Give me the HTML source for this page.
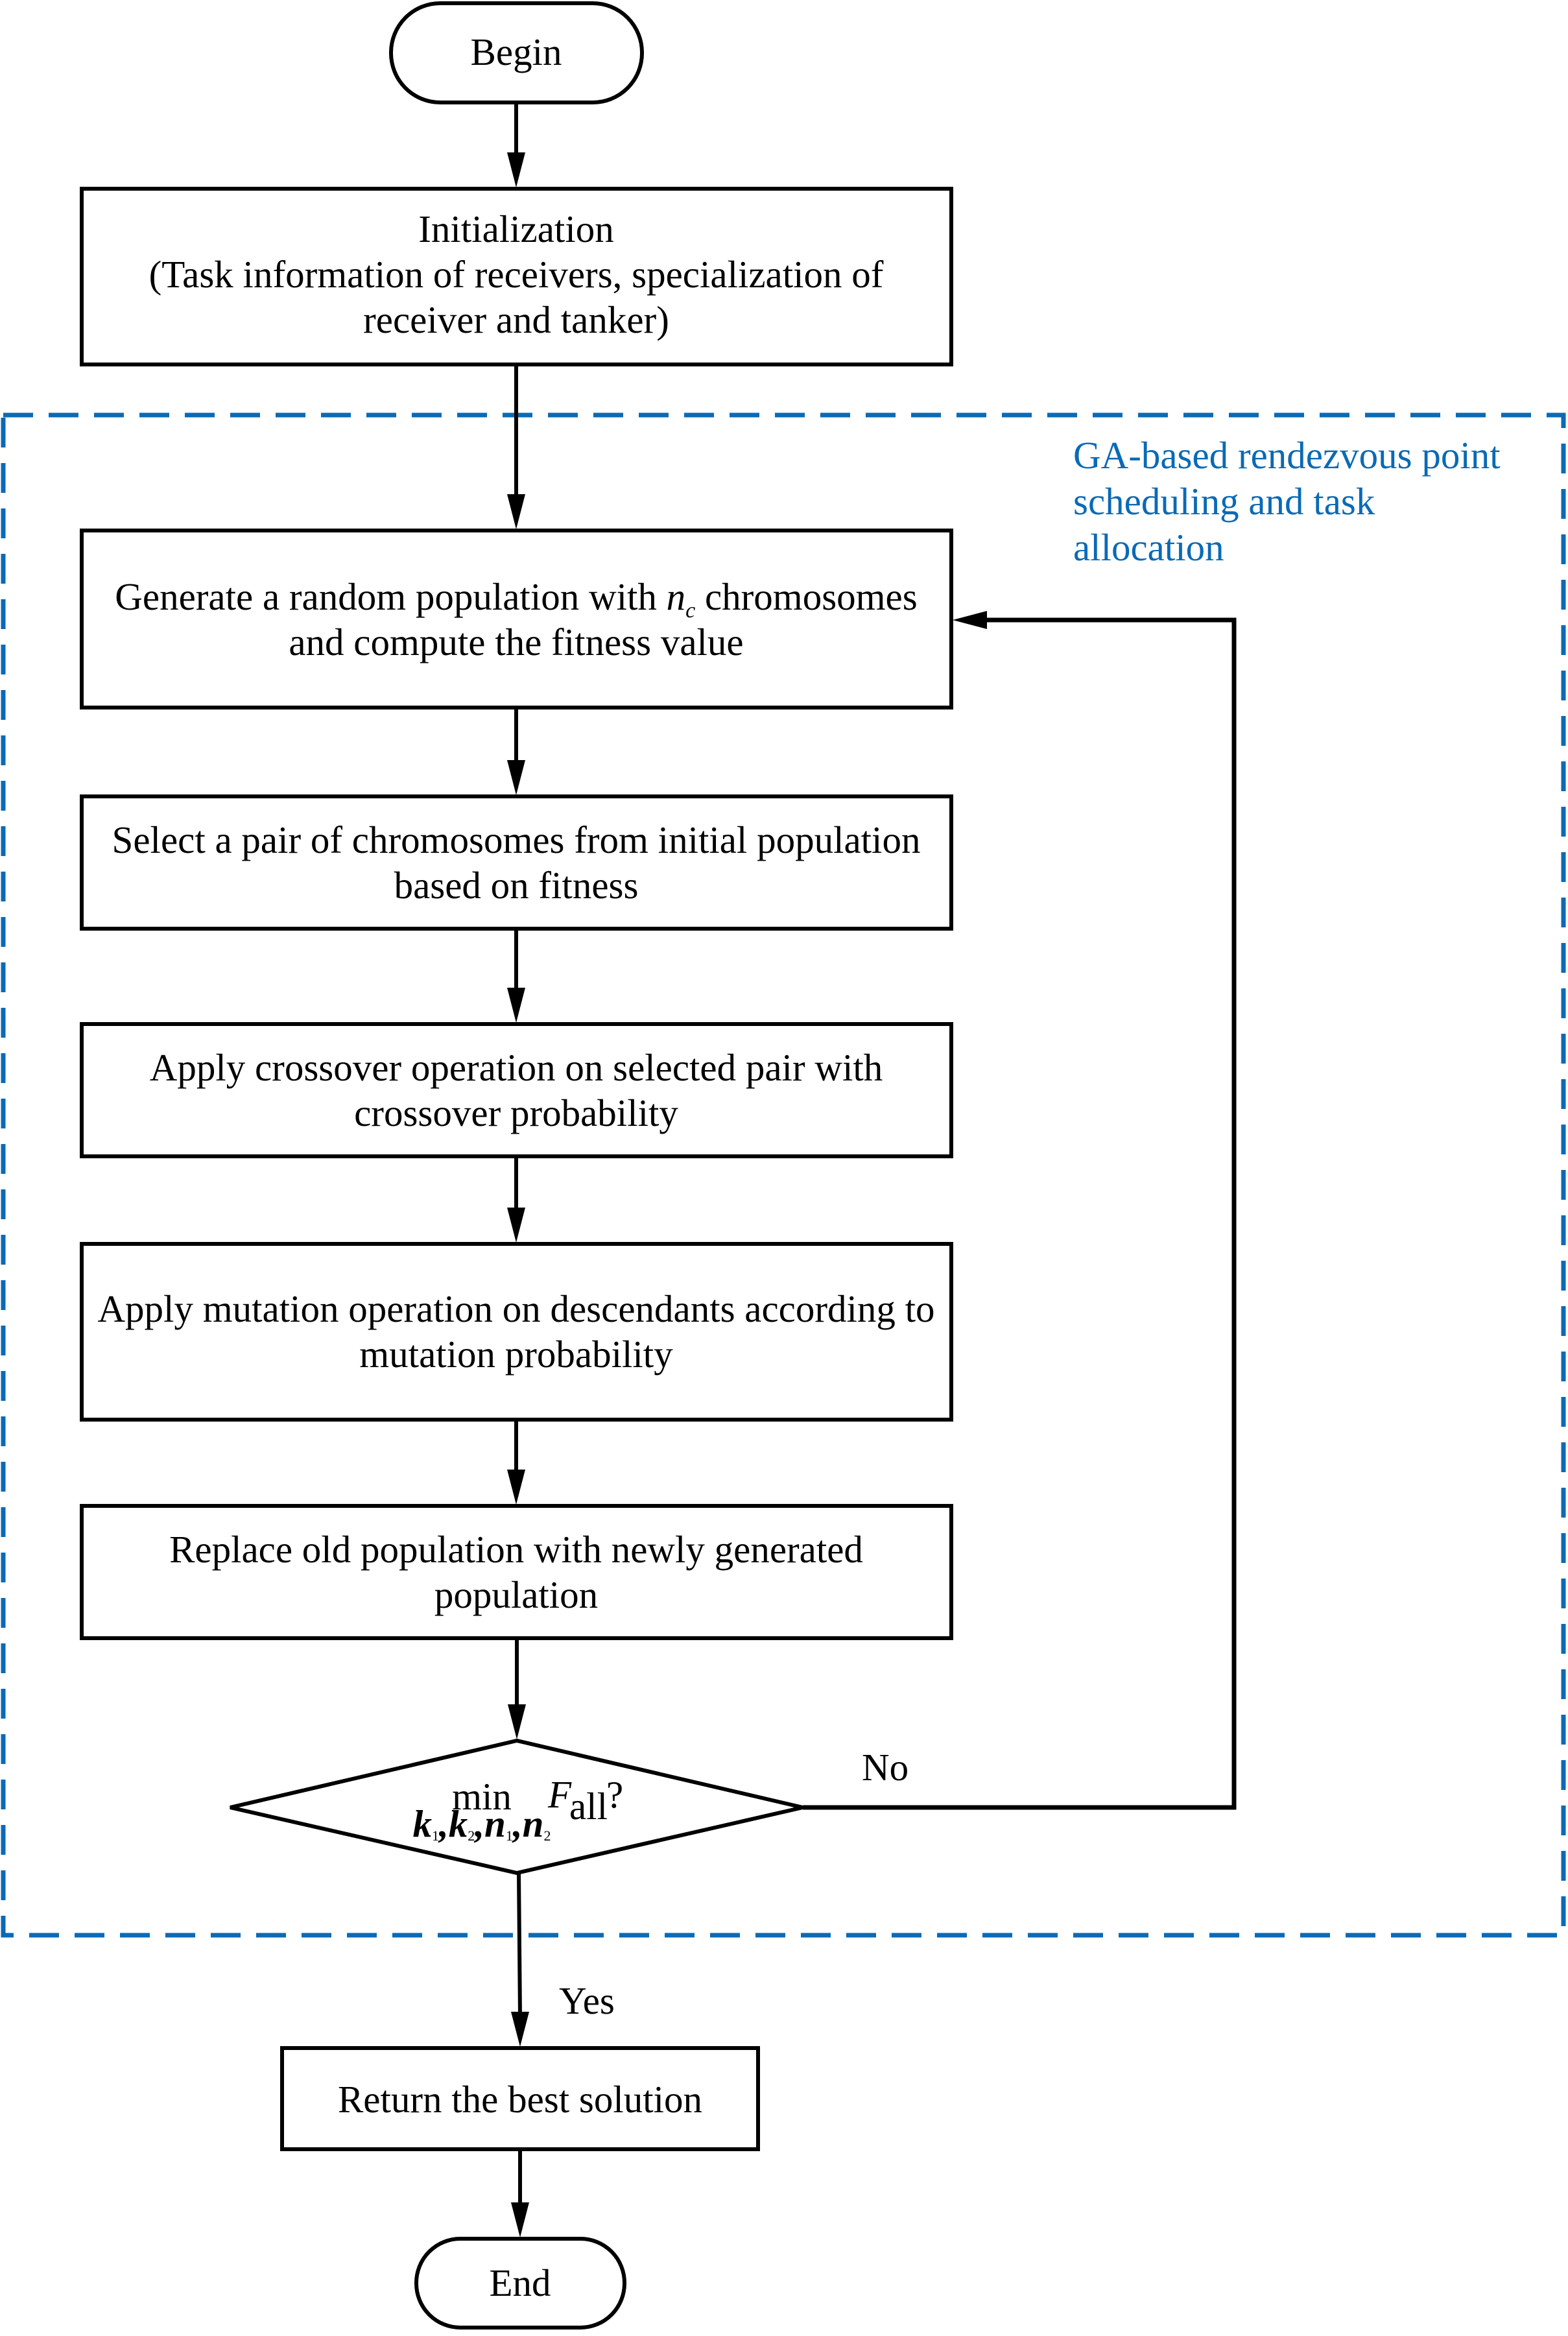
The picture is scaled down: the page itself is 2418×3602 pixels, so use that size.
<!DOCTYPE html>
<html><head><meta charset="utf-8"><style>
body{margin:0;background:#fff}
svg text{font-family:"Liberation Serif",serif;font-size:59px;fill:#000}
</style></head><body>
<svg width="2418" height="3597" viewBox="0 0 2418 3597" xmlns="http://www.w3.org/2000/svg">
<g fill="none" stroke="#000" stroke-width="6">
<rect x="603" y="5" width="387" height="153" rx="76" ry="76"/>
<rect x="126" y="291" width="1341" height="271"/>
<rect x="126" y="818" width="1341" height="273"/>
<rect x="126" y="1228" width="1341" height="204"/>
<rect x="126" y="1579" width="1341" height="204"/>
<rect x="126" y="1918" width="1341" height="271"/>
<rect x="126" y="2322" width="1341" height="204"/>
<polygon points="355,2787 797,2684 1238,2787 797,2888"/>
<rect x="435" y="3158" width="734" height="156"/>
<rect x="642" y="3452" width="321" height="137" rx="68" ry="68"/>
</g>
<rect x="5" y="640" width="2406" height="2344" fill="none" stroke="#0a6ab6" stroke-width="7" stroke-dasharray="46,24"/>
<g stroke="#000" stroke-width="6" fill="none">
<line x1="796" y1="158" x2="796" y2="250"/>
<line x1="796" y1="562" x2="796" y2="770"/>
<line x1="796" y1="1091" x2="796" y2="1190"/>
<line x1="796" y1="1432" x2="796" y2="1540"/>
<line x1="796" y1="1783" x2="796" y2="1880"/>
<line x1="796" y1="2189" x2="796" y2="2285"/>
<line x1="797" y1="2526" x2="797" y2="2640"/>
<line x1="800" y1="2888" x2="802" y2="3110"/>
<line x1="802" y1="3314" x2="802" y2="3410"/>
<polyline points="1238,2787 1903,2787 1903,956 1510,956" stroke-width="7"/>
</g>
<g fill="#000">
<polygon points="782,235 810,235 796,289"/>
<polygon points="782,762 810,762 796,816"/>
<polygon points="782,1172 810,1172 796,1226"/>
<polygon points="782,1523 810,1523 796,1577"/>
<polygon points="782,1862 810,1862 796,1916"/>
<polygon points="782,2266 810,2266 796,2320"/>
<polygon points="783,2628 811,2628 797,2682"/>
<polygon points="788,3102 816,3102 802,3156"/>
<polygon points="788,3396 816,3396 802,3450"/>
<polygon points="1522,942 1522,970 1469,956"/>
</g>
<g text-anchor="middle">
<text x="796" y="100">Begin</text>
<text x="796" y="373">Initialization</text>
<text x="796" y="443">(Task information of receivers, specialization of</text>
<text x="796" y="513">receiver and tanker)</text>
<text x="796" y="940">Generate a random population with <tspan font-style="italic">n</tspan><tspan font-style="italic" font-size="34" dy="12">c</tspan><tspan dy="-12"> chromosomes</tspan></text>
<text x="796" y="1010">and compute the fitness value</text>
<text x="796" y="1315">Select a pair of chromosomes from initial population</text>
<text x="796" y="1385">based on fitness</text>
<text x="796" y="1666">Apply crossover operation on selected pair with</text>
<text x="796" y="1736">crossover probability</text>
<text x="796" y="2038">Apply mutation operation on descendants according to</text>
<text x="796" y="2108">mutation probability</text>
<text x="796" y="2409">Replace old population with newly generated</text>
<text x="796" y="2479">population</text>
<text x="802" y="3257">Return the best solution</text>
<text x="802" y="3540">End</text>
<text x="743" y="2790" font-size="62">min</text>
<text x="743" y="2832" font-size="30" font-style="italic" font-weight="bold">k<tspan font-style="normal" font-weight="normal" font-size="22" dy="6">1</tspan><tspan dy="-6">,</tspan>k<tspan font-style="normal" font-weight="normal" font-size="22" dy="6">2</tspan><tspan dy="-6">,</tspan>n<tspan font-style="normal" font-weight="normal" font-size="22" dy="6">1</tspan><tspan dy="-6">,</tspan>n<tspan font-style="normal" font-weight="normal" font-size="22" dy="6">2</tspan></text>
</g>
<text x="845" y="2787" font-size="64" font-style="italic">F</text>
<text x="878" y="2805" font-size="36">all</text>
<text x="935" y="2787" font-size="58">?</text>
<text x="1329" y="2745">No</text>
<text x="862" y="3105">Yes</text>
<text x="1655" y="722" style="fill:#0a6ab6">GA-based rendezvous point</text>
<text x="1655" y="793" style="fill:#0a6ab6">scheduling and task</text>
<text x="1655" y="864" style="fill:#0a6ab6">allocation</text>
</svg>
</body></html>
